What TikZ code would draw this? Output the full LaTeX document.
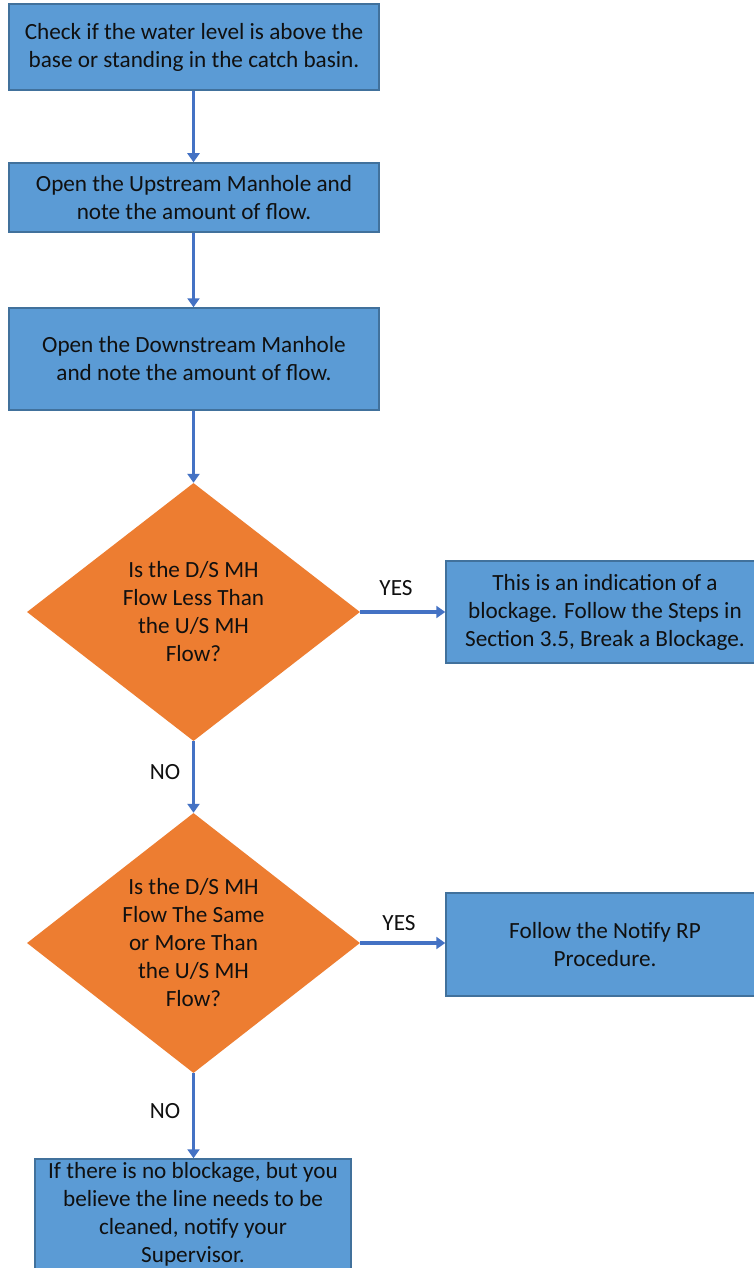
\documentclass[tikz,border=0pt]{standalone}
\usepackage{fontspec}
\setmainfont{Carlito}
\usetikzlibrary{shapes.geometric,arrows.meta}
\definecolor{boxfill}{HTML}{5B9BD5}
\definecolor{boxline}{HTML}{41719C}
\definecolor{decfill}{HTML}{ED7D31}
\definecolor{arrowcol}{HTML}{4472C4}
\definecolor{txt}{HTML}{101010}
\begin{document}
\begin{tikzpicture}[x=1pt,y=-1pt,
  every node/.style={font=\fontsize{23.2}{28}\selectfont, text=txt},
  procbox/.style={draw=boxline, line width=1.5pt, fill=boxfill, rectangle, align=center, inner sep=0pt},
  decision/.style={diamond, fill=decfill, draw=none, inner sep=0pt},
  flow/.style={draw=arrowcol, line width=3.2pt, -{Triangle[width=12pt,length=9pt]}},
  lbl/.style={inner sep=0pt}]
\useasboundingbox (0,0) rectangle (754,1268);
\clip (0,0) rectangle (754,1268);
\fill[white] (0,0) rectangle (754,1268);

\node[procbox, minimum width=370pt, minimum height=86pt] (b1) at (194,47)
  {Check if the water level is above the\\base or standing in the catch basin.};
\node[procbox, minimum width=370pt, minimum height=69pt] (b2) at (194,197.5)
  {Open the Upstream Manhole and\\note the amount of flow.};
\node[procbox, minimum width=370pt, minimum height=102pt] (b3) at (194,359)
  {Open the Downstream Manhole\\and note the amount of flow.};

\node[decision, minimum width=333pt, minimum height=258pt] (d1) at (193.5,612) {};
\node[align=center, inner sep=0pt] (t1) at (d1.center)
  {Is the D/S MH\\Flow Less Than\\the U/S MH\\Flow?};

\node[procbox, minimum width=318pt, minimum height=102pt] (b4) at (605,612)
  {This is an indication of a\\blockage. Follow the Steps in\\Section 3.5, Break a Blockage.};

\node[decision, minimum width=333pt, minimum height=260pt] (d2) at (193.5,943) {};
\node[align=center, inner sep=0pt] (t2) at (d2.center)
  {Is the D/S MH\\Flow The Same\\or More Than\\the U/S MH\\Flow?};

\node[procbox, minimum width=318pt, minimum height=103pt] (b5) at (605,944.5)
  {Follow the Notify RP\\Procedure.};

\node[procbox, minimum width=316pt, minimum height=111pt] (b6) at (193,1214.5)
  {If there is no blockage, but you\\believe the line needs to be\\cleaned, notify your\\Supervisor.};

\draw[flow] (b1.south -| d1.north) -- (b2.north -| d1.north);
\draw[flow] (b2.south -| d1.north) -- (b3.north -| d1.north);
\draw[flow] (b3.south -| d1.north) -- (d1.north);
\draw[flow] (d1.east) -- (d1.east -| b4.west);
\draw[flow] (d1.south) -- (d2.north);
\draw[flow] (d2.east) -- (d2.east -| b5.west);
\draw[flow] (d2.south) -- (b6.north -| d2.south);

\node[lbl] (yes1) at (396,588) {YES};
\node[lbl] (no1) at (165,772) {NO};
\node[lbl] (yes2) at (399,923) {YES};
\node[lbl] (no2) at (165,1111) {NO};
\end{tikzpicture}
\end{document}
